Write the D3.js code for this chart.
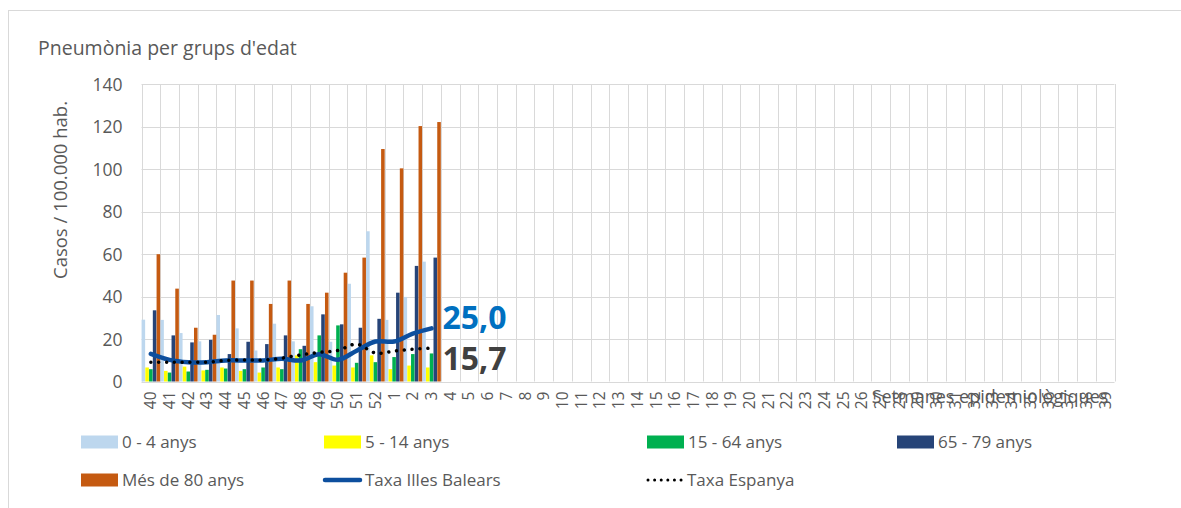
<!DOCTYPE html>
<html>
<head>
<meta charset="utf-8">
<script src="https://cdn.jsdelivr.net/npm/d3@7"></script>
<style>
  html, body { margin: 0; padding: 0; background: #fff; }
  svg { display: block; font-family: "Open Sans", "Noto Sans", sans-serif; }
</style>
</head>
<body>
<svg id="chart" width="1181" height="508"></svg>
<script>
// ---- data ----
const weeks = ["40","41","42","43","44","45","46","47","48","49","50","51","52",
  "1","2","3","4","5","6","7","8","9","10","11","12","13","14","15","16","17","18","19",
  "20","21","22","23","24","25","26","27","28","29","30","31","32","33","34","35","36","37","38","39"];
const age0_4   = [29.1, 29.0, 22.8, 18.9, 31.3, 25.0, 14.6, 27.2, 18.9, 35.4, 18.7, 46.0, 70.7, 29.0, 39.8, 56.4];
const age5_14  = [6.6, 5.0, 7.0, 5.2, 6.6, 5.0, 4.2, 6.6, 12.3, 9.1, 7.5, 6.6, 12.3, 5.8, 7.5, 6.6];
const age15_64 = [5.8, 4.2, 4.7, 5.5, 6.1, 5.8, 6.6, 5.8, 15.2, 21.7, 26.4, 8.8, 9.1, 11.5, 12.9, 13.2];
const age65_79 = [33.5, 21.7, 18.4, 19.6, 12.9, 18.7, 17.6, 21.7, 16.8, 31.6, 26.9, 25.3, 29.5, 41.8, 54.4, 58.3];
const age80    = [59.9, 43.7, 25.3, 22.0, 47.5, 47.5, 36.5, 47.5, 36.5, 41.8, 51.2, 58.3, 109.4, 100.3, 120.2, 122.1];
const taxaBalears = [13.0, 10.2, 9.1, 9.1, 9.9, 9.9, 9.9, 10.7, 9.9, 12.8, 10.2, 14.5, 18.8, 18.8, 22.5, 25.0];
const taxaEspanya = [9.1, 9.1, 9.1, 9.1, 9.9, 10.1, 10.1, 11.0, 12.5, 13.7, 14.6, 17.6, 13.4, 14.3, 15.2, 15.7];
const yTicks = [0, 20, 40, 60, 80, 100, 120, 140];

const barSeries = [
  { name: "0 - 4 anys", values: age0_4, color: "#BDD7EE" },
  { name: "5 - 14 anys", values: age5_14, color: "#FFFF00" },
  { name: "15 - 64 anys", values: age15_64, color: "#00B050" },
  { name: "65 - 79 anys", values: age65_79, color: "#264478" },
  { name: "Més de 80 anys", values: age80, color: "#C55A11" }
];

// ---- layout ----
const svg = d3.select("#chart");
const L = 141.5, R = 1114.5, T = 84, B = 381.5;
const textCol = "#595959";
const gridCol = "#D9D9D9";

// outer border
svg.append("rect").attr("x", 8.5).attr("y", 10.5).attr("width", 1200).attr("height", 520)
  .attr("fill", "none").attr("stroke", gridCol).attr("stroke-width", 1);

const x = d3.scaleBand().domain(weeks).range([L, R]).paddingInner(0).paddingOuter(0);
const y = d3.scaleLinear().domain([0, 140]).range([B, T]);
const sub = d3.scaleBand().domain(barSeries.map(d => d.name)).range([0, x.bandwidth()]).paddingInner(0.05).paddingOuter(0.02);

// gridlines
const g = svg.append("g");
g.selectAll(".hg").data(yTicks).join("line")
  .attr("x1", L).attr("x2", R)
  .attr("y1", d => Math.round(y(d)) + 0.5).attr("y2", d => Math.round(y(d)) + 0.5)
  .attr("stroke", gridCol).attr("stroke-width", 1);
const bounds = weeks.map(w => x(w)).concat([R]);
g.selectAll(".vg").data(bounds).join("line")
  .attr("x1", d => Math.round(d) + 0.5).attr("x2", d => Math.round(d) + 0.5)
  .attr("y1", T).attr("y2", B)
  .attr("stroke", gridCol).attr("stroke-width", 1);

// y-axis via d3.axisLeft
const yAxis = svg.append("g").attr("transform", `translate(${L - 19},0)`)
  .call(d3.axisLeft(y).tickValues(yTicks).tickSize(0).tickPadding(0));
yAxis.select(".domain").remove();
yAxis.selectAll("text").attr("fill", textCol).style("font-size", "17.5px")
  .style("font-family", '"Open Sans", sans-serif').attr("dy", "0.36em");

// x-axis via d3.axisBottom
const xAxis = svg.append("g").attr("transform", `translate(0,${B})`)
  .call(d3.axisBottom(x).tickSize(0).tickPadding(0));
xAxis.select(".domain").remove();
xAxis.selectAll("text").attr("fill", textCol).style("font-size", "15.5px")
  .style("font-family", '"Open Sans", sans-serif')
  .attr("transform", "rotate(-90)").attr("text-anchor", "end")
  .attr("x", -10).attr("y", 0).attr("dy", "0.35em");

// bars
barSeries.forEach(s => {
  svg.append("g").selectAll("rect")
    .data(s.values.map((v, i) => ({ w: weeks[i], v })))
    .join("rect")
    .attr("x", d => x(d.w) + sub(s.name))
    .attr("width", sub.bandwidth())
    .attr("y", d => y(d.v))
    .attr("height", d => y(0) - y(d.v))
    .attr("fill", s.color);
});

// lines
const line = d3.line()
  .x((d, i) => x(weeks[i]) + x.bandwidth() / 2)
  .y(d => y(d))
  .curve(d3.curveCatmullRom.alpha(0));

svg.append("path").datum(taxaBalears).attr("d", line)
  .attr("fill", "none").attr("stroke", "#0D4F9E").attr("stroke-width", 4.5)
  .attr("stroke-linecap", "round");
svg.append("path").datum(taxaEspanya).attr("d", line)
  .attr("fill", "none").attr("stroke", "#000").attr("stroke-width", 3.5)
  .attr("stroke-linecap", "round").attr("stroke-dasharray", "0.01 7.8");

// end labels
const lastI = taxaBalears.length - 1;
const lx = x(weeks[lastI]) + x.bandwidth() / 2 + 11;
svg.append("text").attr("x", lx).attr("y", y(taxaBalears[lastI]) + 1)
  .text(d3.format(".1f")(taxaBalears[lastI]).replace(".", ","))
  .attr("fill", "#0070C0").style("font-weight", "bold").style("font-size", "32px");
svg.append("text").attr("x", lx).attr("y", y(taxaEspanya[lastI]) + 22)
  .text(d3.format(".1f")(taxaEspanya[lastI]).replace(".", ","))
  .attr("fill", "#404040").style("font-weight", "bold").style("font-size", "32px");

// titles
svg.append("text").attr("x", 38).attr("y", 55).text("Pneumònia per grups d'edat")
  .attr("fill", textCol).style("font-size", "19.5px");
svg.append("text").attr("transform", "translate(67,190) rotate(-90)")
  .attr("text-anchor", "middle").text("Casos / 100.000 hab.")
  .attr("fill", textCol).style("font-size", "18.5px");
svg.append("text").attr("x", 990).attr("y", 403).attr("text-anchor", "middle")
  .text("Setmanes epidemiològiques").attr("fill", textCol).style("font-size", "18px");

// legend
const legendItems = [
  { name: "0 - 4 anys", type: "rect", color: "#BDD7EE", x: 81, y: 442 },
  { name: "5 - 14 anys", type: "rect", color: "#FFFF00", x: 324, y: 442 },
  { name: "15 - 64 anys", type: "rect", color: "#00B050", x: 647, y: 442 },
  { name: "65 - 79 anys", type: "rect", color: "#264478", x: 897, y: 442 },
  { name: "Més de 80 anys", type: "rect", color: "#C55A11", x: 81, y: 480 },
  { name: "Taxa Illes Balears", type: "line", color: "#0D4F9E", x: 324, y: 480 },
  { name: "Taxa Espanya", type: "dots", color: "#000", x: 646, y: 480 }
];
const lg = svg.append("g").selectAll("g").data(legendItems).join("g")
  .attr("transform", d => `translate(${d.x},${d.y})`);
lg.filter(d => d.type === "rect").append("rect")
  .attr("x", 0).attr("y", -6.5).attr("width", 37).attr("height", 13).attr("fill", d => d.color);
lg.filter(d => d.type === "line").append("line")
  .attr("x1", 1).attr("x2", 36).attr("y1", 0).attr("y2", 0)
  .attr("stroke", d => d.color).attr("stroke-width", 4.5).attr("stroke-linecap", "round");
lg.filter(d => d.type === "dots").append("line")
  .attr("x1", 2).attr("x2", 36).attr("y1", 0).attr("y2", 0)
  .attr("stroke", d => d.color).attr("stroke-width", 3).attr("stroke-linecap", "round")
  .attr("stroke-dasharray", "0.01 6.6");
lg.append("text").attr("x", 41).attr("y", 0).attr("dy", "0.35em")
  .text(d => d.name).attr("fill", textCol).style("font-size", "17px");
</script>
</body>
</html>
